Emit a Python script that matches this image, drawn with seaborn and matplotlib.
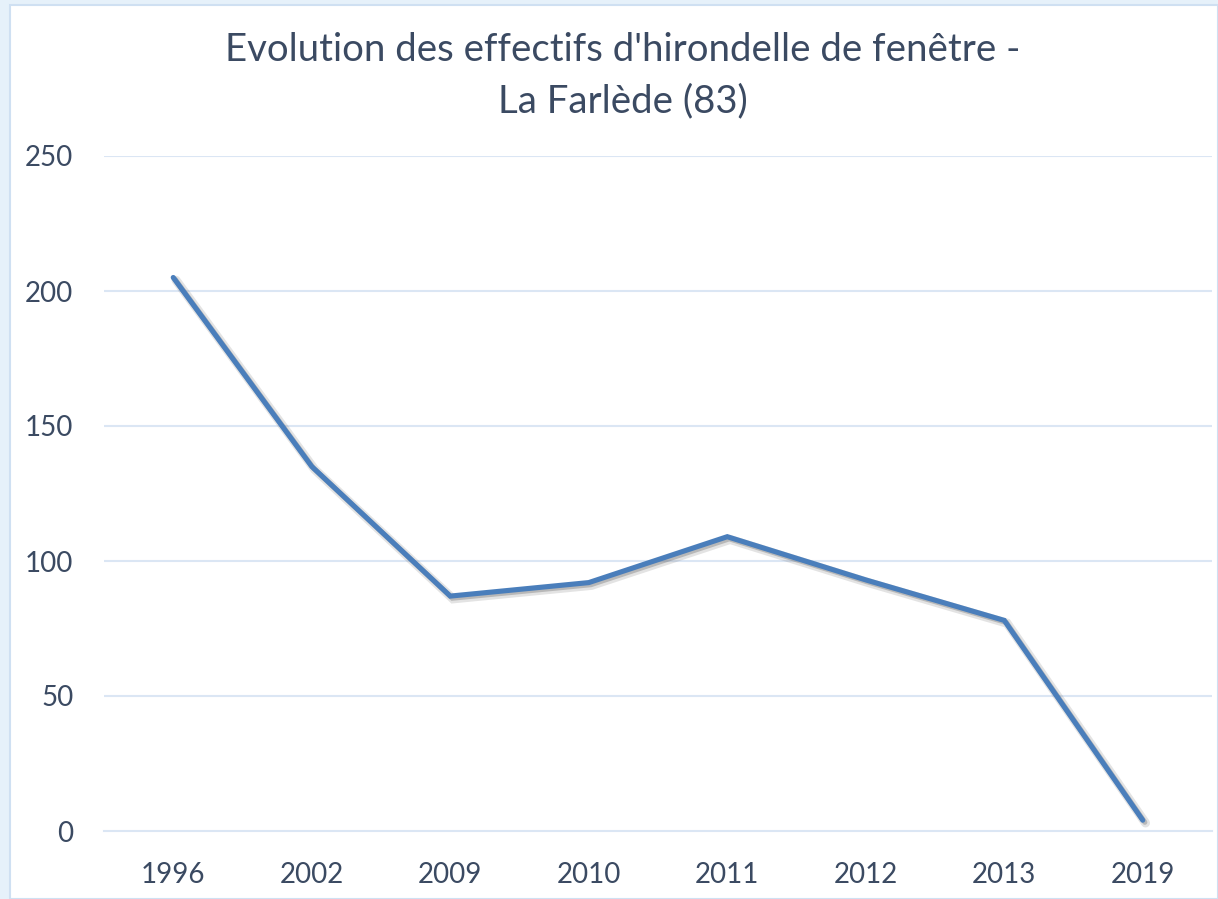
import matplotlib
matplotlib.use("Agg")
import matplotlib.pyplot as plt
import matplotlib.patheffects as pe
from matplotlib.patches import Rectangle
import seaborn as sns
import pandas as pd
import numpy as np

years = ["1996", "2002", "2009", "2010", "2011", "2012", "2013", "2019"]
counts = [205, 135, 87, 92, 109, 93, 78, 4]
y_ticks = [0, 50, 100, 150, 200, 250]
title_lines = ["Evolution des effectifs d'hirondelle de fenêtre -", "La Farlède (83)"]

sns.set_theme(style="white")
plt.rcParams['font.family'] = ['Lato', 'DejaVu Sans']

TXT = "#3b4a62"
GRID = "#dbe6f4"
LINE = "#4a7ebb"

W, H = 1218, 899
fig = plt.figure(figsize=(W / 100, H / 100), dpi=100)
fig.patch.set_facecolor("#e6f1fa")
fig.patches.append(Rectangle((10 / W, 0), 1 - 10 / W, 1 - 5 / H, transform=fig.transFigure,
                             facecolor="white", edgecolor="#cfe0f2", linewidth=1.5, zorder=-10))

ax = fig.add_axes([104 / W, (H - 831) / H, (1212 - 104) / W, (831 - 156) / H])
ax.set_zorder(1)
ax.set_facecolor("none")
df = pd.DataFrame({"year": years, "count": counts})
df["pos"] = np.arange(len(years))
sns.lineplot(data=df, x="pos", y="count", ax=ax, color=LINE, linewidth=3.7, zorder=3)
for ln in ax.lines:
    ln.set_path_effects([
        pe.SimpleLineShadow(offset=(2.0, -2.0), shadow_color="#666666", alpha=0.18, linewidth=6.5),
        pe.SimpleLineShadow(offset=(1.5, -1.5), shadow_color="#555555", alpha=0.3),
        pe.Normal()])
    ln.set_solid_capstyle("round")
    ln.set_solid_joinstyle("miter")

ax.set_xlim(-0.5, len(years) - 0.5)
ax.set_ylim(0, 250)
ax.set_yticks(y_ticks)
ax.set_yticklabels([str(v) for v in y_ticks])
ax.set_xticks(np.arange(len(years)))
ax.set_xticklabels(years)
ax.set_xticks(np.arange(len(years) + 1) - 0.5, minor=True)
ax.tick_params(axis="x", which="major", length=0, pad=22, labelsize=20, labelcolor=TXT)
ax.tick_params(axis="x", which="minor", length=7.5, width=1.2, color=GRID, direction="out")
ax.tick_params(axis="y", length=0, pad=22, labelsize=20, labelcolor=TXT)
ax.set_xlabel("")
ax.set_ylabel("")

for v in y_ticks[1:]:
    ax.axhline(v, color=GRID, linewidth=1.5, zorder=1)
for s in ["top", "right", "left"]:
    ax.spines[s].set_visible(False)
ax.spines["bottom"].set_color(GRID)
ax.spines["bottom"].set_linewidth(1.5)

fig.text(623 / W, 1 - 50 / H, title_lines[0], ha="center", va="center", fontsize=27.6, color=TXT)
fig.text(623 / W, 1 - 101 / H, title_lines[1], ha="center", va="center", fontsize=27.6, color=TXT)

fig.savefig("out.png", dpi=100, facecolor=fig.get_facecolor())
